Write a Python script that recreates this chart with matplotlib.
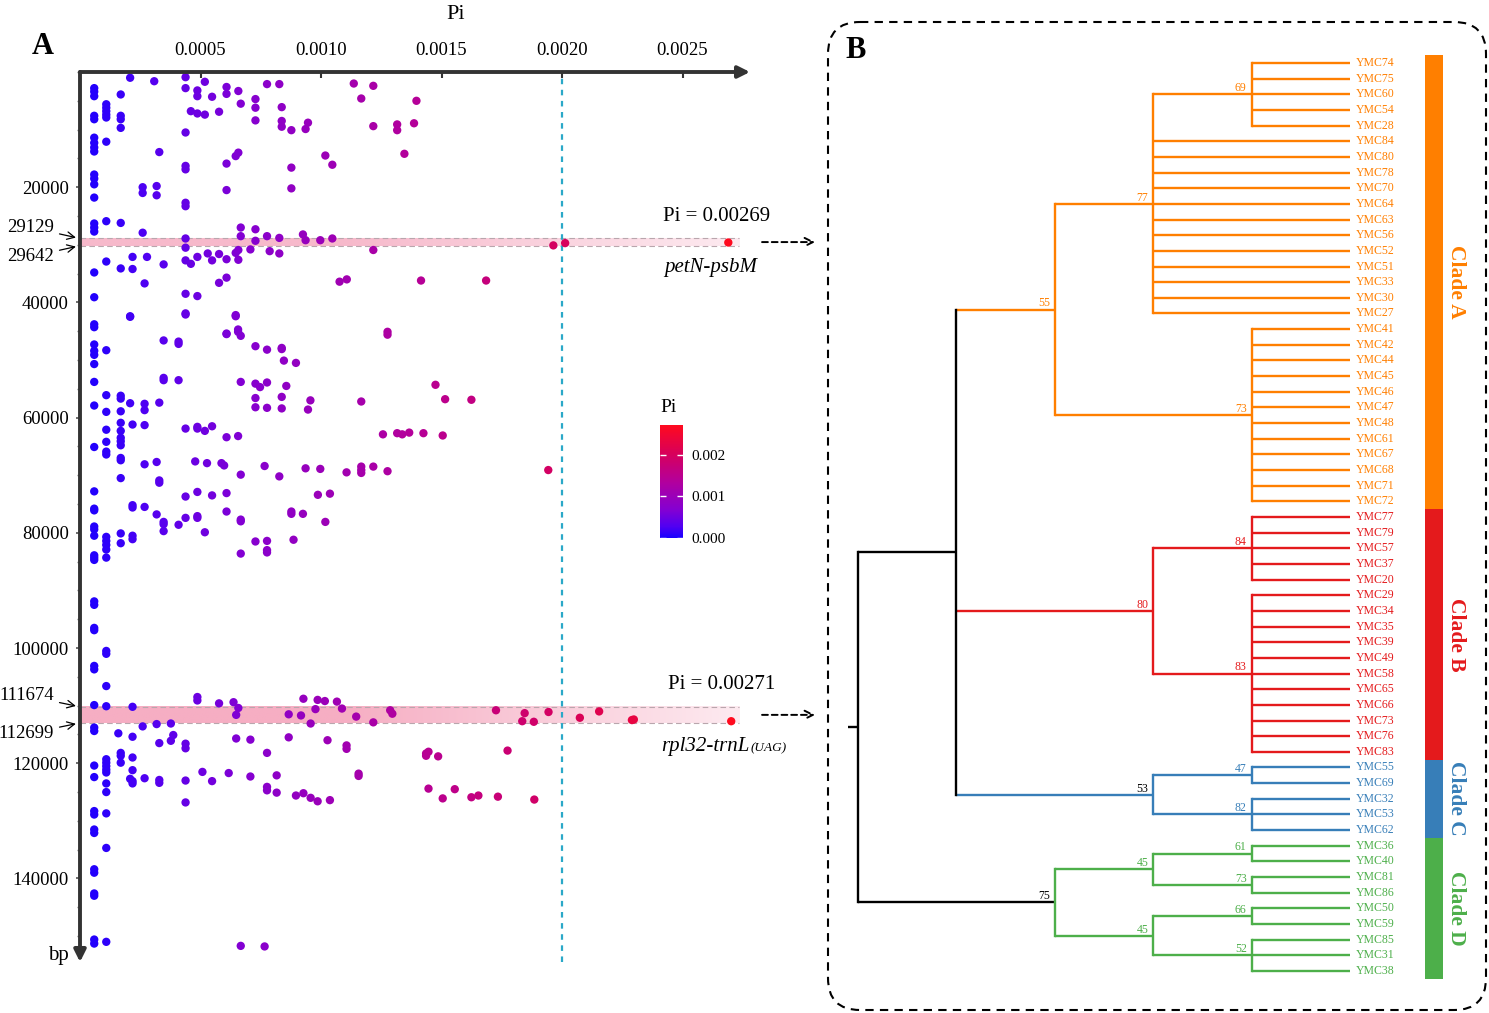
import numpy as np
import matplotlib
matplotlib.use("Agg")
import matplotlib.pyplot as plt
from matplotlib.colors import LinearSegmentedColormap, Normalize
from matplotlib.patches import FancyBboxPatch, Rectangle
from matplotlib.ticker import MultipleLocator
import matplotlib.colorbar as mcolorbar

plt.rcParams["font.family"] = ["Liberation Serif", "DejaVu Serif"]

# ---------------- data : panel A (Pi in units of 1e-4, positions in kb) ----------------
snps_0_45kb = [
    (0.59, [2.8, 3.4, 4.2, 7.6, 8.2, 11.4, 12.3, 13.1, 13.8, 17.8, 18.5, 19.5, 21.8, 26.3, 27.0, 27.7, 34.8, 39.1]),
    (1.09, [5.6, 6.2, 6.8, 7.4, 7.9, 12.1, 25.9, 32.9]),
    (1.69, [3.9, 7.6, 8.2, 9.7, 26.2, 34.1]),
    (2.08, [1.0, 42.4]),
    (2.18, [32.1, 34.2]),
    (2.60, [20.0, 21.0, 27.9]),
    (2.68, [36.7]),
    (2.78, [32.1]),
    (3.08, [1.6]),
    (3.18, [19.8, 21.4]),
    (3.29, [13.9]),
    (3.47, [33.4]),
    (4.38, [0.9, 2.8, 10.5, 16.3, 16.9, 22.7, 23.3, 28.9, 30.5, 32.7, 38.5, 42.1]),
    (4.60, [6.8, 33.3]),
    (4.87, [3.2, 4.2, 7.2, 32.1, 38.9]),
    (5.18, [1.7, 7.4]),
    (5.30, [31.5]),
    (5.48, [4.3, 32.7]),
    (5.77, [6.9, 31.6, 36.6]),
    (6.08, [2.6, 3.8, 15.9, 20.5, 32.5, 35.7]),
    (6.46, [14.6, 31.4, 42.4]),
    (6.57, [3.3, 14.0, 30.9, 32.6]),
    (6.67, [5.5, 27.0, 28.5]),
    (7.07, [30.8]),
    (7.28, [4.7, 6.2, 8.4, 27.3, 29.3]),
    (7.76, [2.1, 28.5]),
    (7.87, [31.1]),
    (8.27, [2.1, 28.8, 31.5]),
    (8.37, [6.1, 8.5, 9.5]),
    (8.77, [10.1, 16.6, 20.2]),
    (9.25, [28.2]),
    (9.36, [9.9, 29.2]),
    (9.46, [8.8]),
    (9.97, [29.2]),
    (10.18, [14.5]),
    (10.47, [16.1, 28.9]),
    (10.77, [36.4]),
    (11.07, [36.0]),
    (11.36, [2.0]),
    (11.67, [4.6]),
    (12.17, [2.4, 9.4, 30.9]),
    (13.16, [9.1, 10.1]),
    (13.46, [14.2]),
    (13.86, [8.9]),
    (13.96, [5.0]),
    (14.15, [36.2]),
    (16.85, [36.2]),
    (19.64, [30.1]),
    (20.13, [29.7]),
    (26.90, [29.6]),
]

snps_40_90kb = [
    (0.59, [43.8, 44.3, 47.3, 48.4, 49.1, 50.7, 53.8, 57.9, 65.1, 72.8, 75.8, 76.1, 78.9, 79.4, 80.5, 83.9, 84.3, 84.7]),
    (1.09, [48.3, 56.1, 59.0, 62.1, 64.2, 65.9, 66.4, 80.7, 81.4, 82.1, 82.9, 84.3]),
    (1.69, [56.2, 56.7, 58.9, 60.9, 62.3, 63.5, 64.1, 64.8, 67.0, 67.4, 70.5, 80.1, 81.8]),
    (2.08, [42.5, 57.5]),
    (2.18, [61.2, 75.2, 75.6, 80.5, 81.1]),
    (2.68, [57.6, 58.7, 61.3, 68.1, 75.5]),
    (3.18, [67.7, 76.8]),
    (3.29, [57.4, 70.9, 71.3]),
    (3.47, [46.6, 53.1, 53.5, 78.1, 78.5, 79.7]),
    (4.09, [46.8, 47.2, 53.5, 78.6]),
    (4.38, [41.9, 61.9, 73.7, 77.4]),
    (4.78, [67.6]),
    (4.87, [61.6, 61.9, 72.9, 77.1, 77.4]),
    (5.18, [62.3, 79.9]),
    (5.27, [67.9]),
    (5.48, [61.5, 73.5]),
    (5.87, [67.9]),
    (5.98, [68.3]),
    (6.08, [45.4, 45.5, 63.4, 73.1, 76.3]),
    (6.46, [42.2]),
    (6.56, [44.7, 45.1, 63.2]),
    (6.67, [45.8, 53.8, 69.9, 77.7, 78.0, 83.6]),
    (7.28, [47.6, 54.1, 56.6, 58.2, 81.5]),
    (7.47, [54.7]),
    (7.66, [68.4]),
    (7.76, [48.2, 53.9, 58.3, 81.4, 83.0, 83.4]),
    (8.27, [70.2]),
    (8.37, [47.9, 48.1, 56.4, 58.4]),
    (8.46, [50.1]),
    (8.56, [54.5]),
    (8.77, [76.3, 76.7]),
    (8.86, [81.2]),
    (8.96, [50.5]),
    (9.25, [76.7]),
    (9.36, [68.8]),
    (9.46, [58.6]),
    (9.56, [57.0]),
    (9.87, [73.4]),
    (9.97, [68.9]),
    (10.18, [78.1]),
    (10.37, [73.2]),
    (11.06, [69.5]),
    (11.67, [57.2, 68.5, 69.1, 69.6]),
    (12.17, [68.5]),
    (12.57, [62.9]),
    (12.76, [45.1, 45.6, 69.3]),
    (13.16, [62.7]),
    (13.37, [62.9]),
    (13.66, [62.6]),
    (14.25, [62.7]),
    (14.75, [54.3]),
    (15.05, [63.1]),
    (15.15, [56.8]),
    (16.24, [56.9]),
    (19.43, [69.1]),
]

snps_90_155kb = [
    (0.59, [91.9, 92.5, 96.5, 96.9, 103.1, 103.7, 109.9, 113.8, 114.4, 120.4, 122.4, 128.3, 128.9, 131.5, 132.1,
            138.4, 139.0, 142.6, 143.0, 150.6, 151.3]),
    (1.09, [100.5, 101.0, 106.6, 110.1, 119.3, 119.9, 120.5, 121.1, 121.6, 123.5, 125.0, 128.7, 134.7, 151.0]),
    (1.59, [114.8]),
    (1.69, [118.2, 118.7, 119.9]),
    (2.08, [122.7]),
    (2.18, [110.2, 115.4, 119.0, 121.2, 123.1, 123.5]),
    (2.60, [113.6]),
    (2.68, [122.6]),
    (3.18, [113.2]),
    (3.29, [116.5, 122.9, 123.4]),
    (3.77, [113.1, 116.1]),
    (3.87, [115.1]),
    (4.38, [116.6, 117.4, 123.0, 126.8]),
    (4.87, [108.5, 109.1]),
    (5.08, [121.5]),
    (5.48, [123.1]),
    (5.77, [109.6]),
    (6.17, [121.7]),
    (6.37, [109.4]),
    (6.48, [111.6, 115.7]),
    (6.57, [110.4]),
    (6.67, [151.7]),
    (7.07, [115.9, 122.3]),
    (7.66, [151.8]),
    (7.76, [118.2, 124.1, 124.7]),
    (8.16, [122.1, 125.1]),
    (8.66, [111.5, 115.5]),
    (8.96, [125.6]),
    (9.17, [111.7]),
    (9.27, [108.8, 125.2]),
    (9.57, [113.1, 126.0]),
    (9.77, [110.6]),
    (9.86, [109.0, 126.6]),
    (10.16, [109.2]),
    (10.27, [116.0]),
    (10.37, [126.4]),
    (10.66, [109.3]),
    (10.87, [110.5]),
    (11.06, [116.9, 117.5]),
    (11.46, [111.9]),
    (11.56, [121.8, 122.2]),
    (12.17, [112.9]),
    (12.87, [110.8]),
    (12.96, [111.4]),
    (14.36, [118.3, 118.7]),
    (14.46, [118.0, 124.4]),
    (14.86, [118.8]),
    (15.05, [126.1]),
    (15.55, [124.5]),
    (16.24, [125.9]),
    (16.53, [125.6]),
    (17.26, [110.8]),
    (17.34, [125.8]),
    (17.74, [117.8]),
    (18.35, [112.7]),
    (18.45, [111.3]),
    (18.83, [112.8]),
    (18.85, [126.3]),
    (19.44, [111.1]),
    (20.74, [112.1]),
    (21.54, [111.0]),
    (22.90, [112.5]),
    (22.98, [112.4]),
    (27.02, [112.7]),
]

x_ticks = [0.0005, 0.0010, 0.0015, 0.0020, 0.0025]
y_ticks = [20000, 40000, 60000, 80000, 100000, 120000, 140000]
threshold_pi = 0.002
hot_regions = [  # (start, end, peak Pi, name)
    (29129, 29642, 0.00269, "petN-psbM"),
    (111674, 112699, 0.00271, "rpl32-trnL"),
]

# ---------------- data : panel B (support, children...) ----------------
clade_A = ["55",
           ["77", ["69", "YMC74", "YMC75", "YMC60", "YMC54", "YMC28"],
            "YMC84", "YMC80", "YMC78", "YMC70", "YMC64", "YMC63", "YMC56", "YMC52",
            "YMC51", "YMC33", "YMC30", "YMC27"],
           ["73", "YMC41", "YMC42", "YMC44", "YMC45", "YMC46", "YMC47", "YMC48",
            "YMC61", "YMC67", "YMC68", "YMC71", "YMC72"]]
clade_B = ["80",
           ["84", "YMC77", "YMC79", "YMC57", "YMC37", "YMC20"],
           ["83", "YMC29", "YMC34", "YMC35", "YMC39", "YMC49", "YMC58", "YMC65",
            "YMC66", "YMC73", "YMC76", "YMC83"]]
clade_C = ["53", ["47", "YMC55", "YMC69"], ["82", "YMC32", "YMC53", "YMC62"]]
clade_D = ["75",
           ["45", ["61", "YMC36", "YMC40"], ["73", "YMC81", "YMC86"]],
           ["45", ["66", "YMC50", "YMC59"], ["52", "YMC85", "YMC31", "YMC38"]]]
tree_root = ["", ["", clade_A, clade_B, clade_C], clade_D]
clade_names = ["Clade A", "Clade B", "Clade C", "Clade D"]
clade_trees = [clade_A, clade_B, clade_C, clade_D]
clade_colors = ["#FF7F00", "#E41A1C", "#377EB8", "#4DAF4A"]

# ---------------- figure ----------------
W, H = 1489, 1013
fig = plt.figure(figsize=(W / 100, H / 100), dpi=100)


def fbox(x0, y0, x1, y1):
    return [x0 / W, 1 - y1 / H, (x1 - x0) / W, (y1 - y0) / H]


ov = fig.add_axes([0, 0, 1, 1])
ov.set_xlim(0, W)
ov.set_ylim(H, 0)
ov.axis("off")

# ---------------- panel A ----------------
pi_vals, pos_vals = [], []
for seg in (snps_0_45kb, snps_40_90kb, snps_90_155kb):
    for p, plist in seg:
        for q in plist:
            pi_vals.append(p * 1e-4)
            pos_vals.append(q * 1000)
pi_vals = np.array(pi_vals)
pos_vals = np.array(pos_vals)

cmap = LinearSegmentedColormap.from_list(
    "bluered", [(0, "#1800ff"), (0.1, "#5000f2"), (0.25, "#8400d2"), (0.5, "#b3009c"),
                (0.75, "#d8005a"), (1.0, "#ff0a1e")])
norm = Normalize(0, 0.00271)

axA = fig.add_axes(fbox(80, 72, 750, 962))
axA.set_xlim(0, 0.00278)
axA.set_ylim(154500, 0)
for s in axA.spines.values():
    s.set_visible(False)
axA.patch.set_alpha(0)

# highlighted bands
band_extent = [(28900, 30150), (110200, 113000)]
band_left = ["#f7b9cb", "#f6aec3"]
band_end = 0.002735
for (b0, b1), cl in zip(band_extent, band_left):
    bcm = LinearSegmentedColormap.from_list("b", [(0, cl), (0.4, cl), (1, "#fdeaf0")])
    grad = np.linspace(0, 1, 256).reshape(1, -1)
    axA.imshow(grad, cmap=bcm, aspect="auto", extent=[0, band_end, b1, b0],
               interpolation="bilinear", zorder=1)
    for yy in (b0, b1):
        axA.plot([0, band_end], [yy, yy], color="#b9a6ad", lw=0.8, ls=(0, (5, 3)), zorder=1.5)
axA.set_xlim(0, 0.00278)
axA.set_ylim(154500, 0)

axA.axvline(threshold_pi, color="#2aa8c8", lw=1.6, ls=(0, (2.5, 2.5)), zorder=2)
axA.scatter(pi_vals, pos_vals, c=pi_vals, cmap=cmap, norm=norm, s=36, linewidths=0, zorder=3)

axA.xaxis.tick_top()
axA.set_xticks(x_ticks)
axA.set_xticklabels([f"{v:.4f}" for v in x_ticks])
axA.set_yticks(y_ticks)
axA.set_yticklabels([str(v) for v in y_ticks])
axA.yaxis.set_minor_locator(MultipleLocator(5000))
axA.tick_params(axis="x", which="major", direction="in", length=4, width=1.5, color="#333333",
                pad=9, labelsize=13.5)
axA.tick_params(axis="y", which="major", direction="out", length=3, width=1.2, color="#555555",
                pad=5, labelsize=13.5)
axA.tick_params(axis="y", which="minor", direction="out", length=2, width=1.0, color="#777777")

arrow_kw = dict(arrowstyle="-|>,head_length=0.7,head_width=0.35", lw=2.8, color="#333333",
                shrinkA=0, shrinkB=0)
axA.annotate("", xy=(1, 1), xytext=(0, 1), xycoords="axes fraction", arrowprops=arrow_kw,
             annotation_clip=False)
axA.annotate("", xy=(0, 0), xytext=(0, 1), xycoords="axes fraction", arrowprops=arrow_kw,
             annotation_clip=False)
axA.text(0.56, 1.065, "Pi", transform=axA.transAxes, ha="center", va="center", fontsize=16)
ov.text(69, 955, "bp", ha="right", va="center", fontsize=15)
ov.text(43, 46, "A", ha="center", va="center", fontsize=22, weight="bold")

# region labels with arrows
for (r0, r1, peak, name), (b0, b1) in zip(hot_regions, band_extent):
    axA.annotate(str(r0), xy=(0, b0), xycoords=("axes fraction", "data"),
                 xytext=(-26, 11), textcoords="offset pixels", ha="right", va="center",
                 fontsize=13.5, annotation_clip=False,
                 arrowprops=dict(arrowstyle="->", lw=0.9, color="black", shrinkA=2, shrinkB=3))
    axA.annotate(str(r1), xy=(0, b1), xycoords=("axes fraction", "data"),
                 xytext=(-26, -11), textcoords="offset pixels", ha="right", va="center",
                 fontsize=13.5, annotation_clip=False,
                 arrowprops=dict(arrowstyle="->", lw=0.9, color="black", shrinkA=2, shrinkB=3))
    yc = (b0 + b1) / 2
    axA.annotate("", xy=(0.00305, yc), xytext=(0.00283, yc), xycoords="data",
                 arrowprops=dict(arrowstyle="->,head_length=0.6,head_width=0.3", lw=1.4,
                                 ls=(0, (3, 2)), color="black", shrinkA=0, shrinkB=0),
                 annotation_clip=False)
    axA.annotate(f"Pi = {peak:.5f}", xy=(peak, b0), xycoords="data", xytext=(-12, 22),
                 textcoords="offset pixels", ha="center", va="center", fontsize=15,
                 annotation_clip=False)

axA.annotate("petN-psbM", xy=(0.00269, 30150), xycoords="data", xytext=(-18, -22),
             textcoords="offset pixels", ha="center", va="center", fontsize=15, style="italic",
             annotation_clip=False)
axA.annotate("rpl32-trnL", xy=(0.00271, 113000), xycoords="data", xytext=(16, -28),
             textcoords="offset pixels", ha="right", va="baseline", fontsize=15,
             style="italic", annotation_clip=False)
axA.annotate("(UAG)", xy=(0.00271, 113000), xycoords="data", xytext=(17, -28),
             textcoords="offset pixels", ha="left", va="baseline", fontsize=9.5, style="italic",
             annotation_clip=False)

# colorbar
cax = fig.add_axes(fbox(660, 425, 683, 538))
cb = mcolorbar.ColorbarBase(cax, cmap=cmap, norm=norm, orientation="vertical")
cb.outline.set_visible(False)
cb.set_ticks([0, 0.001, 0.002])
cb.set_ticklabels(["0.000", "0.001", "0.002"])
cax.tick_params(axis="y", which="both", direction="in", length=4, width=1, color="white",
                labelsize=11, pad=6, left=True, right=True)
cax.text(0.0, 1.08, "Pi", transform=cax.transAxes, ha="left", va="bottom", fontsize=14)

# ---------------- panel B ----------------
box = FancyBboxPatch((828, 22), 658, 988, boxstyle="round,pad=0,rounding_size=32",
                     fill=False, lw=1.5, ls=(0, (4, 3)), ec="black")
ov.add_patch(box)
ov.text(856, 50, "B", ha="center", va="center", fontsize=22, weight="bold")

axB = fig.add_axes(fbox(826, 0, 1489, 1013))
axB.axis("off")
px_per_depth = 98.4
px_per_leaf = 15.655
axB.set_xlim((826 - 858) / px_per_depth, (1489 - 858) / px_per_depth)
axB.set_ylim((1013 - 63) / px_per_leaf, -63 / px_per_leaf)


def leaves(node, out):
    if isinstance(node, str):
        out.append(node)
    else:
        for ch in node[1:]:
            leaves(ch, out)
    return out


order = leaves(tree_root, [])
leaf_index = {n: i for i, n in enumerate(order)}


def height(node):
    return 0 if isinstance(node, str) else 1 + max(height(c) for c in node[1:])


TIP = height(tree_root)


def pos(node):
    if isinstance(node, str):
        return TIP, leaf_index[node]
    ys = [pos(c)[1] for c in node[1:]]
    return TIP - height(node), (ys[0] + ys[-1]) / 2


node_color = {}
leaf_color = {}


def paint(node, col):
    if isinstance(node, str):
        leaf_color[node] = col
    else:
        node_color[id(node)] = col
        for ch in node[1:]:
            paint(ch, col)


for t, c in zip(clade_trees, clade_colors):
    paint(t, c)
black_entry = {id(clade_D)}
black_support = {id(clade_C), id(clade_D)}
LW = 1.7


def color_of(node):
    if isinstance(node, str):
        return leaf_color[node]
    return node_color.get(id(node), "black")


def draw(node):
    x, y = pos(node)
    kids = node[1:]
    kp = [pos(c) for c in kids]
    axB.plot([x, x], [kp[0][1], kp[-1][1]], color=color_of(node), lw=LW,
             solid_capstyle="projecting", zorder=2)
    for ch, (cx, cy) in zip(kids, kp):
        ec = "black" if id(ch) in black_entry else color_of(ch)
        axB.plot([x, cx], [cy, cy], color=ec, lw=LW, solid_capstyle="butt", zorder=1)
        if isinstance(ch, str):
            axB.text(cx + 0.06, cy, ch, color=leaf_color[ch], fontsize=8.5, ha="left",
                     va="center")
        else:
            draw(ch)
    if node[0]:
        lc = "black" if id(node) in black_support else color_of(node)
        axB.text(x - 0.05, y - 0.2, node[0], color=lc, fontsize=8.5, ha="right",
                 va="baseline")


draw(tree_root)
rx, ry = pos(tree_root)
axB.plot([rx - 0.1, rx], [ry, ry], color="black", lw=LW, solid_capstyle="butt")

# clade bars
bar_x0 = (1425 - 858) / px_per_depth
bar_w = (1443 - 1425) / px_per_depth
for name, t, c in zip(clade_names, clade_trees, clade_colors):
    lv = leaves(t, [])
    i0, i1 = leaf_index[lv[0]], leaf_index[lv[-1]]
    axB.add_patch(Rectangle((bar_x0, i0 - 0.5), bar_w, i1 - i0 + 1, color=c, lw=0))
    axB.text(bar_x0 + bar_w + 0.13, (i0 + i1) / 2, name, color=c, fontsize=15.5,
             weight="bold", rotation=-90, ha="center", va="center")

fig.savefig("out.png", dpi=100)
